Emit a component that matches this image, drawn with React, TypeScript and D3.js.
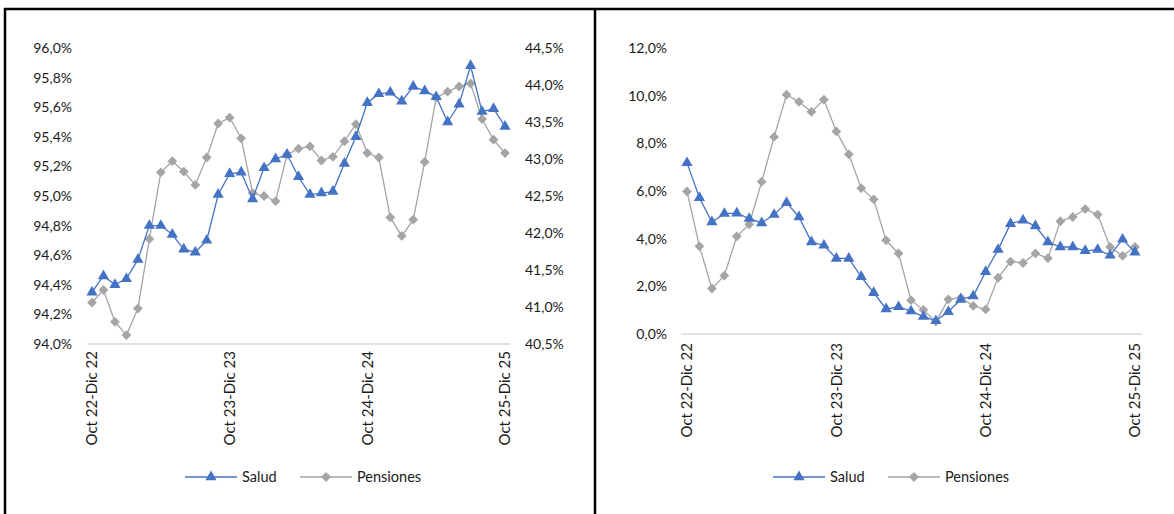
import React from "react";
import * as d3 from "d3";

const categories = d3.range(37).map((i) => `m${i}`);
const tickLabels = ["Oct 22-Dic 22", "Oct 23-Dic 23", "Oct 24-Dic 24", "Oct 25-Dic 25"];
const tickIndex = [0, 12, 24, 36];

const saludLeft = [94.35, 94.46, 94.40, 94.44, 94.57, 94.80, 94.80, 94.74, 94.64, 94.62, 94.70, 95.01, 95.15, 95.16, 94.98, 95.19, 95.25, 95.28, 95.13, 95.01, 95.02, 95.03, 95.22, 95.40, 95.63, 95.69, 95.70, 95.64, 95.74, 95.71, 95.67, 95.50, 95.62, 95.88, 95.57, 95.59, 95.47];
const pensionesLeft = [41.06, 41.23, 40.80, 40.62, 40.98, 41.92, 42.82, 42.97, 42.83, 42.65, 43.02, 43.48, 43.56, 43.28, 42.54, 42.50, 42.43, 43.06, 43.14, 43.17, 42.98, 43.03, 43.24, 43.47, 43.08, 43.02, 42.21, 41.96, 42.18, 42.96, 43.83, 43.91, 43.98, 44.02, 43.54, 43.26, 43.08];
const saludRight = [7.18, 5.72, 4.70, 5.05, 5.07, 4.84, 4.66, 5.01, 5.51, 4.91, 3.86, 3.72, 3.17, 3.17, 2.40, 1.73, 1.05, 1.14, 0.96, 0.73, 0.55, 0.93, 1.45, 1.59, 2.61, 3.54, 4.63, 4.77, 4.53, 3.86, 3.65, 3.65, 3.49, 3.54, 3.30, 3.97, 3.43];
const pensionesRight = [5.98, 3.68, 1.91, 2.45, 4.10, 4.60, 6.39, 8.27, 10.04, 9.74, 9.32, 9.83, 8.50, 7.54, 6.12, 5.65, 3.93, 3.38, 1.42, 1.01, 0.52, 1.45, 1.52, 1.18, 1.03, 2.36, 3.04, 2.98, 3.38, 3.18, 4.73, 4.91, 5.24, 5.01, 3.65, 3.28, 3.65];

const leftTicks = d3.range(0, 11).map((i) => 94 + i * 0.2);
const left2Ticks = d3.range(0, 9).map((i) => 40.5 + i * 0.5);
const rightTicks = d3.range(0, 7).map((i) => i * 2);

const BLUE = "#4472C4";
const GRAY = "#A5A5A5";
const TXT = "#1a1a1a";
const FONT = "Lato, 'Open Sans', sans-serif";

const fmt = (v: number) => v.toFixed(1).replace(".", ",") + "%";

const tri = d3.symbol(d3.symbolTriangle, 54)() as string;
const dia = d3.symbol(d3.symbolSquare, 48)() as string;

function Series({ data, x, y, color, marker }: any) {
  const line = d3
    .line<number>()
    .x((_, i) => x(categories[i]) as number)
    .y((d) => y(d));
  return (
    <g>
      <path d={line(data) as string} fill="none" stroke={color} strokeWidth={1.3} />
      {data.map((d: number, i: number) => (
        <path
          key={i}
          d={marker === "tri" ? tri : dia}
          transform={`translate(${x(categories[i])},${y(d)})${marker === "tri" ? "" : " rotate(45)"}`}
          fill={color}
        />
      ))}
    </g>
  );
}

function Legend({ cx, y }: { cx: number; y: number }) {
  return (
    <g fontFamily={FONT} fontSize={14.5} fill={TXT}>
      <line x1={cx - 140} x2={cx - 88} y1={y} y2={y} stroke={BLUE} strokeWidth={1.3} />
      <path d={tri} transform={`translate(${cx - 114},${y})`} fill={BLUE} />
      <text x={cx - 83} y={y} dy="0.35em">Salud</text>
      <line x1={cx - 25} x2={cx + 27} y1={y} y2={y} stroke={GRAY} strokeWidth={1.3} />
      <path d={dia} transform={`translate(${cx + 1},${y}) rotate(45)`} fill={GRAY} />
      <text x={cx + 32} y={y} dy="0.35em">Pensiones</text>
    </g>
  );
}

export default function App() {
  // Left chart
  const xL = d3.scalePoint<string>().domain(categories).range([92, 505]);
  const yL = d3.scaleLinear().domain([94, 96]).range([344, 48]);
  const yL2 = d3.scaleLinear().domain([40.5, 44.5]).range([344, 48]);
  // Right chart
  const xR = d3.scalePoint<string>().domain(categories).range([687, 1135]);
  const yR = d3.scaleLinear().domain([0, 12]).range([334, 48]);

  return (
    <svg width={1174} height={514} style={{ position: "absolute", left: 0, top: 0, background: "#fff" }}>
      <rect width={1174} height={514} fill="#fff" />
      {/* frame */}
      <line x1={4} x2={1174} y1={9} y2={9} stroke="#000" strokeWidth={2.5} />
      <line x1={5} x2={5} y1={8} y2={514} stroke="#000" strokeWidth={2.5} />
      <line x1={595} x2={595} y1={8} y2={514} stroke="#000" strokeWidth={2.5} />

      {/* Left chart */}
      <line x1={87} x2={510} y1={yL(94)} y2={yL(94)} stroke="#D9D9D9" strokeWidth={1.5} />
      <g fontFamily={FONT} fontSize={14} fill={TXT}>
        {leftTicks.map((t) => (
          <text key={t} x={72} y={yL(t)} dy="0.35em" textAnchor="end">{fmt(t)}</text>
        ))}
        {left2Ticks.map((t) => (
          <text key={t} x={525} y={yL2(t)} dy="0.35em" textAnchor="start">{fmt(t)}</text>
        ))}
      </g>
      <g fontFamily={FONT} fontSize={15} fill={TXT}>
        {tickIndex.map((ti, k) => (
          <text key={k} transform={`translate(${xL(categories[ti])},351) rotate(-90)`} dy="0.35em" textAnchor="end">{tickLabels[k]}</text>
        ))}
      </g>
      <Series data={pensionesLeft} x={xL} y={yL2} color={GRAY} marker="dia" />
      <Series data={saludLeft} x={xL} y={yL} color={BLUE} marker="tri" />
      <Legend cx={325} y={477} />

      {/* Right chart */}
      <line x1={681} x2={1142} y1={yR(0)} y2={yR(0)} stroke="#D9D9D9" strokeWidth={1.5} />
      <g fontFamily={FONT} fontSize={14} fill={TXT}>
        {rightTicks.map((t) => (
          <text key={t} x={667} y={yR(t)} dy="0.35em" textAnchor="end">{fmt(t)}</text>
        ))}
      </g>
      <g fontFamily={FONT} fontSize={15} fill={TXT}>
        {tickIndex.map((ti, k) => (
          <text key={k} transform={`translate(${xR(categories[ti])},343) rotate(-90)`} dy="0.35em" textAnchor="end">{tickLabels[k]}</text>
        ))}
      </g>
      <Series data={pensionesRight} x={xR} y={yR} color={GRAY} marker="dia" />
      <Series data={saludRight} x={xR} y={yR} color={BLUE} marker="tri" />
      <Legend cx={913} y={477} />
    </svg>
  );
}
